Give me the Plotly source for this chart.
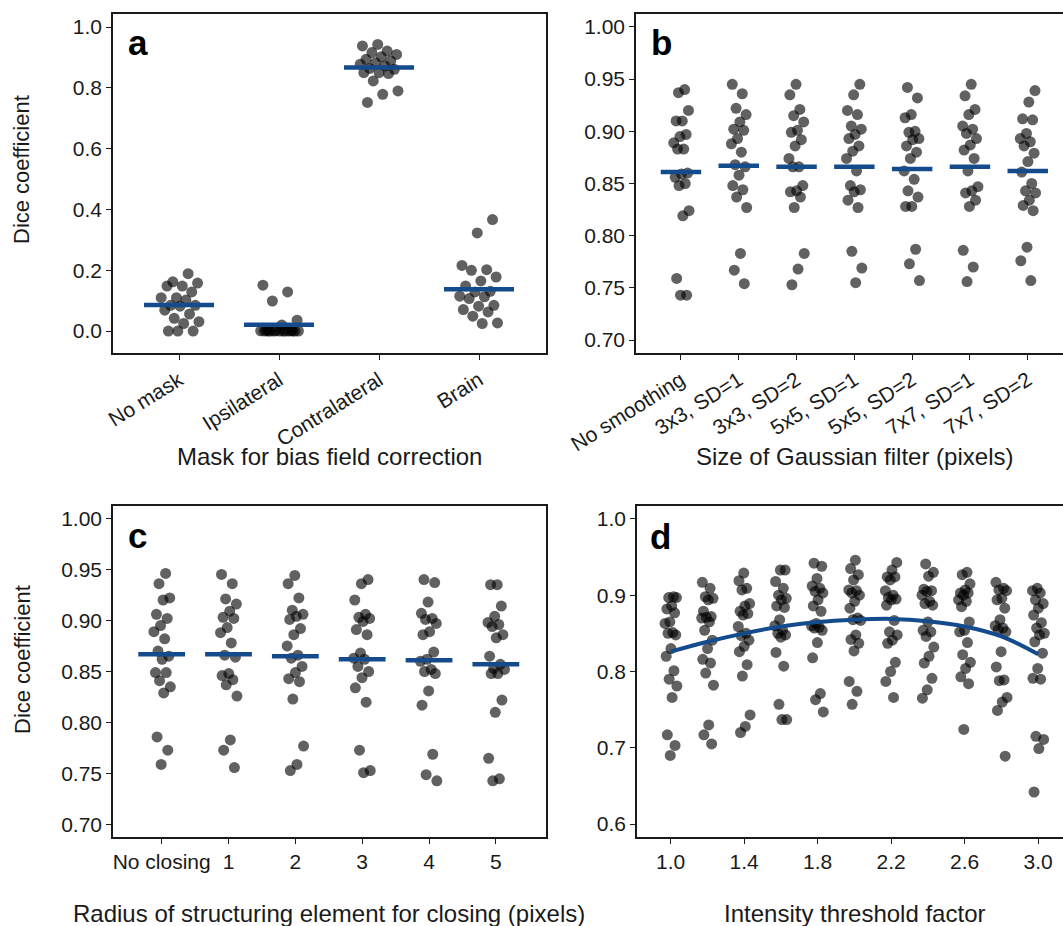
import plotly.graph_objects as go

# ---------------- data ----------------
mask_labels = ["No mask", "Ipsilateral", "Contralateral", "Brain"]
mask_values = [
    [0.189, 0.162, 0.158, 0.148, 0.148, 0.129, 0.110, 0.110, 0.102, 0.085,
     0.085, 0.082, 0.069, 0.056, 0.042, 0.031, 0.025, 0.000, 0.000, 0.000],
    [0.151, 0.129, 0.099, 0.036, 0.020, 0.003, 0.002, 0.001, 0.001, 0.000,
     0.000, 0.000, 0.000, 0.000, 0.000, 0.000, 0.000, 0.000, 0.000, 0.000],
    [0.943, 0.938, 0.921, 0.916, 0.910, 0.902, 0.894, 0.889, 0.883, 0.878,
     0.872, 0.864, 0.861, 0.850, 0.850, 0.847, 0.823, 0.790, 0.779, 0.752],
    [0.367, 0.323, 0.216, 0.202, 0.200, 0.178, 0.165, 0.148, 0.131, 0.129,
     0.115, 0.113, 0.107, 0.085, 0.082, 0.071, 0.063, 0.049, 0.027, 0.025],
]
mask_means = [0.086, 0.021, 0.867, 0.138]

filter_labels = ["No smoothing", "3x3, SD=1", "3x3, SD=2", "5x5, SD=1",
                 "5x5, SD=2", "7x7, SD=1", "7x7, SD=2"]
filter_values = [
    [0.940, 0.937, 0.920, 0.910, 0.910, 0.897, 0.895, 0.889, 0.883, 0.883,
     0.860, 0.859, 0.856, 0.850, 0.848, 0.824, 0.819, 0.759, 0.743, 0.743],
    [0.945, 0.936, 0.922, 0.916, 0.909, 0.902, 0.901, 0.893, 0.888, 0.880,
     0.868, 0.866, 0.858, 0.848, 0.844, 0.837, 0.827, 0.783, 0.767, 0.754],
    [0.945, 0.935, 0.921, 0.915, 0.909, 0.901, 0.899, 0.892, 0.886, 0.874,
     0.866, 0.866, 0.848, 0.843, 0.842, 0.837, 0.827, 0.783, 0.768, 0.753],
    [0.945, 0.935, 0.920, 0.916, 0.905, 0.902, 0.897, 0.893, 0.886, 0.881,
     0.874, 0.862, 0.848, 0.844, 0.842, 0.834, 0.827, 0.785, 0.769, 0.755],
    [0.942, 0.932, 0.916, 0.913, 0.900, 0.899, 0.893, 0.892, 0.886, 0.880,
     0.874, 0.862, 0.854, 0.843, 0.837, 0.828, 0.828, 0.787, 0.773, 0.757],
    [0.945, 0.934, 0.921, 0.916, 0.905, 0.902, 0.898, 0.893, 0.887, 0.882,
     0.874, 0.862, 0.847, 0.843, 0.841, 0.834, 0.828, 0.786, 0.770, 0.756],
    [0.939, 0.928, 0.912, 0.911, 0.898, 0.893, 0.890, 0.886, 0.879, 0.871,
     0.861, 0.850, 0.843, 0.841, 0.834, 0.829, 0.824, 0.789, 0.776, 0.757],
]
filter_means = [0.861, 0.867, 0.866, 0.866, 0.864, 0.866, 0.862]

closing_labels = ["No closing", "1", "2", "3", "4", "5"]
closing_values = [
    [0.946, 0.936, 0.922, 0.920, 0.906, 0.902, 0.895, 0.889, 0.882, 0.870,
     0.865, 0.862, 0.849, 0.849, 0.841, 0.835, 0.829, 0.786, 0.773, 0.759],
    [0.945, 0.936, 0.921, 0.916, 0.909, 0.903, 0.902, 0.893, 0.888, 0.878,
     0.866, 0.864, 0.848, 0.846, 0.842, 0.837, 0.826, 0.783, 0.773, 0.756],
    [0.944, 0.936, 0.922, 0.910, 0.906, 0.904, 0.901, 0.892, 0.886, 0.875,
     0.866, 0.863, 0.855, 0.849, 0.843, 0.840, 0.823, 0.777, 0.759, 0.753],
    [0.940, 0.936, 0.920, 0.906, 0.903, 0.902, 0.899, 0.891, 0.886, 0.868,
     0.863, 0.862, 0.855, 0.850, 0.844, 0.834, 0.820, 0.773, 0.753, 0.751],
    [0.940, 0.937, 0.918, 0.907, 0.902, 0.901, 0.897, 0.889, 0.886, 0.869,
     0.862, 0.860, 0.852, 0.850, 0.848, 0.831, 0.817, 0.769, 0.749, 0.743],
    [0.935, 0.935, 0.914, 0.904, 0.898, 0.896, 0.894, 0.886, 0.883, 0.865,
     0.857, 0.853, 0.852, 0.848, 0.848, 0.822, 0.810, 0.765, 0.745, 0.743],
]
closing_means = [0.867, 0.867, 0.865, 0.862, 0.861, 0.857]

threshold_factors = [1.0, 1.2, 1.4, 1.6, 1.8, 2.0, 2.2, 2.4, 2.6, 2.8, 3.0]
threshold_values = [
    [0.898, 0.897, 0.897, 0.886, 0.882, 0.877, 0.865, 0.863, 0.851, 0.850,
     0.848, 0.830, 0.820, 0.801, 0.790, 0.781, 0.766, 0.717, 0.703, 0.690],
    [0.917, 0.909, 0.898, 0.896, 0.894, 0.879, 0.872, 0.871, 0.870, 0.865,
     0.854, 0.841, 0.830, 0.816, 0.811, 0.798, 0.782, 0.730, 0.717, 0.705],
    [0.929, 0.919, 0.909, 0.907, 0.889, 0.886, 0.879, 0.876, 0.874, 0.859,
     0.850, 0.847, 0.841, 0.833, 0.826, 0.809, 0.794, 0.743, 0.728, 0.720],
    [0.933, 0.933, 0.918, 0.909, 0.900, 0.896, 0.894, 0.886, 0.884, 0.868,
     0.860, 0.854, 0.850, 0.848, 0.845, 0.825, 0.807, 0.757, 0.737, 0.737],
    [0.942, 0.938, 0.922, 0.912, 0.909, 0.905, 0.903, 0.894, 0.886, 0.879,
     0.863, 0.860, 0.858, 0.857, 0.854, 0.838, 0.818, 0.771, 0.763, 0.747],
    [0.946, 0.935, 0.927, 0.920, 0.907, 0.906, 0.903, 0.900, 0.892, 0.883,
     0.870, 0.868, 0.867, 0.848, 0.842, 0.837, 0.827, 0.787, 0.774, 0.757],
    [0.943, 0.933, 0.924, 0.924, 0.920, 0.906, 0.900, 0.897, 0.895, 0.894,
     0.887, 0.867, 0.852, 0.848, 0.841, 0.837, 0.812, 0.800, 0.787, 0.766],
    [0.941, 0.930, 0.925, 0.908, 0.906, 0.905, 0.900, 0.892, 0.889, 0.887,
     0.865, 0.854, 0.852, 0.846, 0.832, 0.820, 0.811, 0.791, 0.776, 0.765],
    [0.930, 0.927, 0.915, 0.907, 0.903, 0.903, 0.900, 0.894, 0.892, 0.885,
     0.865, 0.854, 0.852, 0.838, 0.822, 0.812, 0.804, 0.793, 0.784, 0.724],
    [0.917, 0.909, 0.907, 0.906, 0.896, 0.894, 0.883, 0.868, 0.860, 0.857,
     0.855, 0.852, 0.826, 0.806, 0.789, 0.788, 0.766, 0.760, 0.749, 0.689],
    [0.909, 0.906, 0.903, 0.894, 0.889, 0.883, 0.874, 0.864, 0.857, 0.850,
     0.848, 0.839, 0.824, 0.804, 0.791, 0.790, 0.715, 0.711, 0.699, 0.642],
]
threshold_fit = [0.826, 0.839, 0.850, 0.859, 0.865, 0.868, 0.869, 0.866,
                 0.859, 0.846, 0.8225]

# ---------------- style ----------------
W, H = 1063, 926
FONT = "Liberation Sans, Arial, Helvetica, sans-serif"
INK = "#1a1a1a"
BLUE = "#144b8c"
DOT = "rgba(0,0,0,0.62)"
DOT_SIZE = 11
TICK_SIZE = 21
TITLE_SIZE = 24


def px(x):
    return x / W


def py(y):
    return 1 - y / H


def spread(n, half, phase):
    """Deterministic horizontal spread for overlapping points."""
    return [half * (2 * (((k + 1) * 0.6180339887 + phase) % 1.0) - 1) for k in range(n)]


fig = go.Figure()


def add_strip(groups, centers, half, xa, ya):
    xs, ys = [], []
    for g, (vals, c) in enumerate(zip(groups, centers)):
        offs = spread(len(vals), half, 0.37 * g + 0.11)
        xs += [c + o for o in offs]
        ys += vals
    fig.add_trace(go.Scatter(
        x=xs, y=ys, mode="markers", xaxis=xa, yaxis=ya,
        marker=dict(size=DOT_SIZE, color=DOT, line=dict(width=0)),
        hoverinfo="skip", showlegend=False))


def add_means(means, centers, xa, ya, half=0.35):
    xs, ys = [], []
    for m, c in zip(means, centers):
        xs += [c - half, c + half, None]
        ys += [m, m, None]
    fig.add_trace(go.Scatter(
        x=xs, y=ys, mode="lines", xaxis=xa, yaxis=ya,
        line=dict(color=BLUE, width=4.5),
        hoverinfo="skip", showlegend=False))


pos_a = list(range(1, len(mask_labels) + 1))
pos_b = list(range(1, len(filter_labels) + 1))
pos_c = list(range(1, len(closing_labels) + 1))

add_strip(mask_values, pos_a, 0.2, "x", "y")
add_means(mask_means, pos_a, "x", "y")

add_strip(filter_values, pos_b, 0.14, "x2", "y2")
add_means(filter_means, pos_b, "x2", "y2")

add_strip(closing_values, pos_c, 0.13, "x3", "y3")
add_means(closing_means, pos_c, "x3", "y3")

add_strip(threshold_values, threshold_factors, 0.034, "x4", "y4")
fig.add_trace(go.Scatter(
    x=threshold_factors, y=threshold_fit, mode="lines", xaxis="x4", yaxis="y4",
    line=dict(color=BLUE, width=4, shape="spline", smoothing=1.0),
    hoverinfo="skip", showlegend=False))

axis_common = dict(
    showline=True, linecolor=INK, linewidth=1.6,
    ticks="outside", ticklen=5, tickwidth=1.3, tickcolor=INK,
    showgrid=False, zeroline=False, automargin=False,
    tickfont=dict(family=FONT, size=TICK_SIZE, color=INK),
)

left_dom = [px(113), px(546)]
right_dom = [px(636), 1.0]
top_dom = [py(353), py(14)]
bot_dom = [py(837), py(506)]

fig.update_layout(
    template="none",
    width=W, height=H, autosize=False,
    margin=dict(l=0, r=0, t=0, b=0, pad=0),
    paper_bgcolor="white", plot_bgcolor="white",
    font=dict(family=FONT, color=INK),
    xaxis=dict(axis_common, domain=left_dom, anchor="y", mirror=True,
               range=[0.34, 4.67], tickmode="array", tickvals=pos_a,
               ticktext=mask_labels, tickangle=-32),
    yaxis=dict(axis_common, domain=top_dom, anchor="x", mirror=True,
               range=[-0.072, 1.043], tickmode="array",
               tickvals=[0, 0.2, 0.4, 0.6, 0.8, 1.0], tickformat=".1f"),
    xaxis2=dict(axis_common, domain=right_dom, anchor="y2", mirror=True,
                range=[0.222, 7.61], tickmode="array", tickvals=pos_b,
                ticktext=filter_labels, tickangle=-32),
    yaxis2=dict(axis_common, domain=top_dom, anchor="x2", mirror=False,
                range=[0.6876, 1.0124], tickmode="array",
                tickvals=[0.70, 0.75, 0.80, 0.85, 0.90, 0.95, 1.00], tickformat=".2f"),
    xaxis3=dict(axis_common, domain=left_dom, anchor="y3", mirror=True,
                range=[0.272, 6.75], tickmode="array", tickvals=pos_c,
                ticktext=closing_labels, tickangle=0),
    yaxis3=dict(axis_common, domain=bot_dom, anchor="x3", mirror=True,
                range=[0.688, 1.012], tickmode="array",
                tickvals=[0.70, 0.75, 0.80, 0.85, 0.90, 0.95, 1.00], tickformat=".2f"),
    xaxis4=dict(axis_common, domain=[px(637), 1.0], anchor="y4", mirror=True,
                range=[0.817, 3.135], tickmode="array",
                tickvals=[1.0, 1.4, 1.8, 2.2, 2.6, 3.0], tickformat=".1f", tickangle=0),
    yaxis4=dict(axis_common, domain=bot_dom, anchor="x4", mirror=False,
                range=[0.583, 1.017], tickmode="array",
                tickvals=[0.6, 0.7, 0.8, 0.9, 1.0], tickformat=".1f"),
)

annotations = []

# panel letters
for letter, x, y in [("a", 126, 43), ("b", 649, 43), ("c", 126, 535), ("d", 648, 536)]:
    annotations.append(dict(
        text=f"<b>{letter}</b>", x=px(x), y=py(y), xref="paper", yref="paper",
        xanchor="left", yanchor="middle", showarrow=False,
        font=dict(family=FONT, size=35, color="black")))

# axis titles
for text, x, y in [
    ("Mask for bias field correction", 329, 456),
    ("Size of Gaussian filter (pixels)", 854, 456),
    ("Radius of structuring element for closing (pixels)", 329, 913),
    ("Intensity threshold factor", 854, 913),
]:
    annotations.append(dict(
        text=text, x=px(x), y=py(y), xref="paper", yref="paper",
        xanchor="center", yanchor="middle", showarrow=False,
        font=dict(family=FONT, size=TITLE_SIZE, color=INK)))

for y in (170, 660):
    annotations.append(dict(
        text="Dice coefficient", x=px(22), y=py(y), xref="paper", yref="paper",
        xanchor="center", yanchor="middle", textangle=-90, showarrow=False,
        font=dict(family=FONT, size=22, color=INK)))

fig.update_layout(annotations=annotations)

fig.write_html("out.html")
